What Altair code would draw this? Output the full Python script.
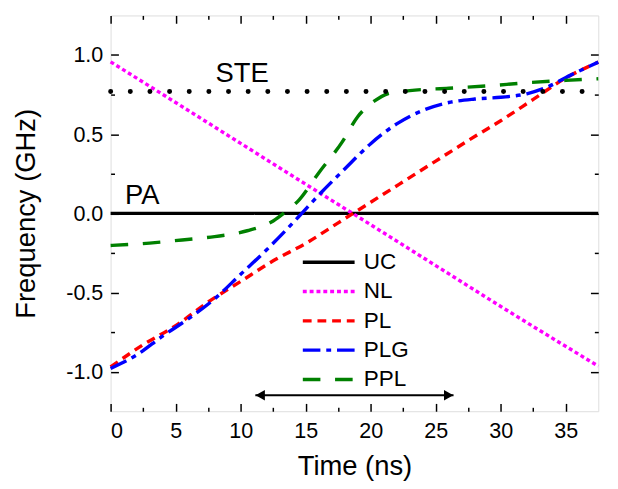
import altair as alt
import pandas as pd

# ---------------- data ----------------
series_names = ["UC", "NL", "PL", "PLG", "PPL"]
series_colors = ["#000000", "#ff00ff", "#ff0000", "#0000ff", "#008000"]
series_dashes = [[1, 0], [4, 3], [9, 6], [18, 6, 5, 6], [18, 15]]

uc_t = [0, 37.5]
uc_f = [0.0, 0.0]

nl_t = [0, 5, 10, 15, 18.6, 25, 30, 37.5]
nl_f = [0.957, 0.70, 0.442, 0.184, 0.0, -0.33, -0.588, -0.965]

pl_t = [0, 2.5, 5, 7.5, 10, 12.5, 15, 17.5, 20, 22.5, 25, 27.5, 30, 32.5, 35, 37.5]
pl_f = [-0.97, -0.83, -0.71, -0.56, -0.43, -0.30, -0.19, -0.06, 0.07, 0.20,
        0.33, 0.46, 0.585, 0.72, 0.855, 0.955]

plg_t = [0, 2, 4, 6, 8, 10, 12, 13.5, 14.7, 16, 18, 20, 22, 24, 26, 28, 30,
         32, 33.5, 35.3, 37.5]
plg_f = [-0.98, -0.895, -0.775, -0.665, -0.54, -0.385, -0.23, -0.105, 0.0,
         0.115, 0.28, 0.44, 0.565, 0.65, 0.70, 0.722, 0.733, 0.755, 0.795,
         0.87, 0.955]

ppl_t = [0, 3, 5.5, 8, 10.5, 12.5, 13.3, 14.5, 16, 17.8, 19, 20.3, 21.3, 23,
         26, 29, 32, 35, 37.5]
ppl_f = [-0.203, -0.188, -0.168, -0.147, -0.11, -0.048, 0.0, 0.085, 0.255,
         0.45, 0.61, 0.71, 0.755, 0.775, 0.79, 0.805, 0.825, 0.84, 0.85]

ste_level = 0.77
ste_span = [0, 37.5]

note_text = ["STE", "PA"]
note_t = [8.06, 1.1]
note_f = [0.83, 0.06]

arrow_t = [11.13, 26.37]
arrow_f = -1.149

x_major = [0, 5, 10, 15, 20, 25, 30, 35]
x_minor = [2.5, 7.5, 12.5, 17.5, 22.5, 27.5, 32.5]
y_major = [-1.0, -0.5, 0.0, 0.5, 1.0]
y_minor = [-0.75, -0.25, 0.25, 0.75]

# ---------------- tables ----------------
rows = []
for name, ts, fs in [("UC", uc_t, uc_f), ("NL", nl_t, nl_f), ("PL", pl_t, pl_f),
                     ("PLG", plg_t, plg_f), ("PPL", ppl_t, ppl_f)]:
    for t, f in zip(ts, fs):
        rows.append({"t": t, "f": f, "series": name})
df = pd.DataFrame(rows)

ste_df = pd.DataFrame({"t": [ste_span[0]], "t2": [ste_span[1]], "f": [ste_level]})
note_df = pd.DataFrame({"t": note_t, "f": note_f, "label": note_text})
arrow_df = pd.DataFrame({"t": [arrow_t[0]], "t2": [arrow_t[1]], "f": [arrow_f]})
head_l = pd.DataFrame({"t": [arrow_t[0]], "f": [arrow_f]})
head_r = pd.DataFrame({"t": [arrow_t[1]], "f": [arrow_f]})
dummy = pd.DataFrame({"t": uc_t, "f": uc_f})

W, H = 499, 405
FONT = "Liberation Sans"

xs = alt.Scale(domain=[0, 37.5], nice=False, zero=False)
ys = alt.Scale(domain=[-1.25, 1.25], nice=False, zero=False)

x_main = alt.Axis(values=x_major, ticks=False, tickSize=0, domain=False, grid=False,
                  labelFont=FONT, labelFontSize=22, labelColor="black", labelPadding=10,
                  title="Time (ns)", titleFont=FONT, titleFontSize=28,
                  titleFontWeight="normal", titleColor="black", titlePadding=12,
                  orient="bottom")
y_main = alt.Axis(values=y_major, ticks=False, tickSize=0, domain=False, grid=False,
                  labelFont=FONT, labelFontSize=22, labelColor="black", labelPadding=8,
                  labelExpr="datum.value < 0 ? '-' + format(-datum.value, '.1f') : format(datum.value, '.1f')",
                  title="Frequency (GHz)", titleFont=FONT, titleFontSize=28,
                  titleFontWeight="normal", titleColor="black", titlePadding=26,
                  orient="left")


def tick_axis(values, orient, offset, size):
    return alt.Axis(values=values, orient=orient, offset=offset, tickSize=size,
                    ticks=True, labels=False, domain=False, grid=False, title=None,
                    tickColor="black", tickWidth=1.5)


legend = alt.Legend(title=None, orient="none", legendX=194, legendY=241,
                    symbolType="M-1,0H5", symbolSize=312, symbolStrokeWidth=3.5,
                    labelFont=FONT, labelFontSize=23, labelColor="black",
                    labelOffset=42, rowPadding=6, padding=0)

lines = alt.Chart(df).mark_line(strokeWidth=3.5, interpolate="monotone").encode(
    x=alt.X("t:Q", scale=xs, axis=x_main),
    y=alt.Y("f:Q", scale=ys, axis=y_main),
    color=alt.Color("series:N", scale=alt.Scale(domain=series_names, range=series_colors),
                    legend=legend, sort=series_names),
    strokeDash=alt.StrokeDash("series:N", scale=alt.Scale(domain=series_names, range=series_dashes),
                              legend=legend, sort=series_names),
)

tick_layers = []
for xv, yv, size, xo, yo in [
    (x_major, y_major, 8, "top", "right"),
    (x_minor, y_minor, 4, "top", "right"),
    (x_major, y_major, 8, "bottom", "left"),
    (x_minor, y_minor, 4, "bottom", "left"),
]:
    tick_layers.append(
        alt.Chart(dummy).mark_point(opacity=0).encode(
            x=alt.X("t:Q", scale=xs, axis=tick_axis(xv, xo, -H, size)),
            y=alt.Y("f:Q", scale=ys, axis=tick_axis(yv, yo, -W, size)),
        )
    )

ste = alt.Chart(ste_df).mark_rule(color="black", strokeWidth=5, strokeCap="round",
                                  strokeDash=[0.1, 20]).encode(
    x=alt.X("t:Q", scale=xs, axis=None), x2="t2:Q",
    y=alt.Y("f:Q", scale=ys, axis=None),
)

notes = alt.Chart(note_df).mark_text(align="left", baseline="alphabetic", font=FONT,
                                     fontSize=28, color="black").encode(
    x=alt.X("t:Q", scale=xs, axis=None),
    y=alt.Y("f:Q", scale=ys, axis=None),
    text="label:N",
)

arrow = alt.Chart(arrow_df).mark_rule(color="black", strokeWidth=2).encode(
    x=alt.X("t:Q", scale=xs, axis=None), x2="t2:Q",
    y=alt.Y("f:Q", scale=ys, axis=None),
)
arr_l = alt.Chart(head_l).mark_point(shape="triangle-left", filled=True, size=120,
                                     color="black", opacity=1, xOffset=5).encode(
    x=alt.X("t:Q", scale=xs, axis=None), y=alt.Y("f:Q", scale=ys, axis=None))
arr_r = alt.Chart(head_r).mark_point(shape="triangle-right", filled=True, size=120,
                                     color="black", opacity=1, xOffset=-5).encode(
    x=alt.X("t:Q", scale=xs, axis=None), y=alt.Y("f:Q", scale=ys, axis=None))

chart = alt.layer(lines, *tick_layers, ste, notes, arrow, arr_l, arr_r).resolve_axis(
    x="independent", y="independent"
).properties(
    width=W, height=H,
    padding={"left": 5, "top": 1, "right": 5, "bottom": 5},
).configure_view(stroke="black", strokeWidth=2).configure(font=FONT)

chart.save("out.html", embed_options={"renderer": "svg", "actions": False})
